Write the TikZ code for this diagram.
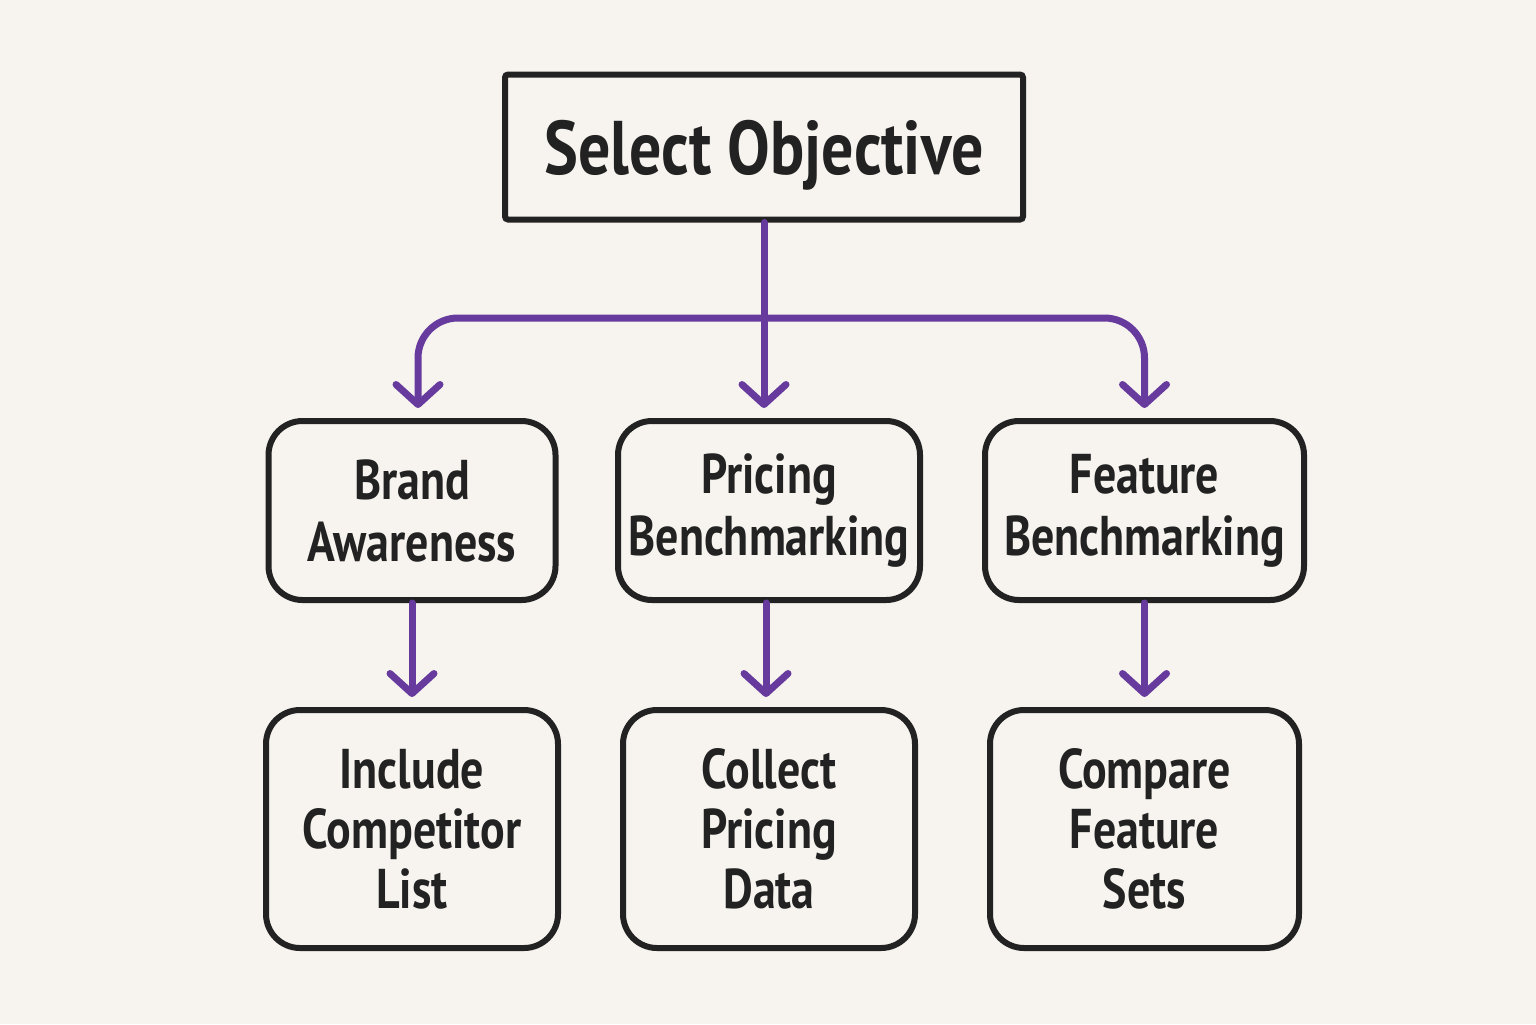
\documentclass[tikz,border=0pt]{standalone}
\usepackage{fontspec}
\newfontfamily\hand[FakeStretch=0.82]{PT Sans Bold}
\newfontfamily\handtop[FakeStretch=0.84]{PT Sans Bold}
\usetikzlibrary{arrows.meta}
\definecolor{bg}{HTML}{F7F4EF}
\definecolor{ink}{HTML}{222222}
\definecolor{vio}{HTML}{673A9E}
\begin{document}
\begin{tikzpicture}[x=0.5pt,y=-0.5pt,
  box/.style={draw=ink, line width=3pt, align=center, text=ink, inner sep=0pt,
    font=\hand\fontsize{28}{31}\selectfont},
  topbox/.style={box, rounded corners=1.5pt, minimum width=259pt, minimum height=72.5pt,
    font=\handtop\fontsize{38}{40}\selectfont},
  midbox/.style={box, rounded corners=17pt, minimum height=89.5pt},
  lowbox/.style={box, rounded corners=17pt, minimum height=119pt,
    font=\hand\fontsize{28}{30}\selectfont},
  arr/.style={draw=vio, line width=3.5pt, line cap=round, line join=round,
    -{Straight Barb[length=10pt,width=22pt,line cap=round,line join=round]}, shorten >=5pt}]
\fill[bg] (0,0) rectangle (1536,1024);
\useasboundingbox (0,0) rectangle (1536,1024);
\node[topbox] (top) at (764,147) {};
\node[font=\handtop\fontsize{38}{40}\selectfont, text=ink] (toptext) at (764,155) {Select Objective};
\node[midbox, minimum width=143.5pt] (brand) at (412,510.5) {Brand\\Awareness};
\node[midbox, minimum width=151pt] (pricing) at (769,510.5) {Pricing\\Benchmarking};
\node[midbox, minimum width=159.5pt] (feature) at (1144.5,510.5) {Feature\\Benchmarking};
\node[lowbox, minimum width=146pt] (include) at (412,829) {Include\\Competitor\\List};
\node[lowbox, minimum width=146pt] (collect) at (769,829) {Collect\\Pricing\\Data};
\node[lowbox, minimum width=154.5pt] (compare) at (1144.5,829) {Compare\\Feature\\Sets};
\coordinate (j) at (764,318);
\draw[arr] (top.south) -- (top.south |- pricing.north);
\draw[arr, rounded corners=20pt] (j) -| ([xshift=3pt]brand.north);
\draw[arr, rounded corners=20pt] (j) -| (feature.north);
\draw[arr] (brand.south -| include.north) -- (include.north);
\draw[arr] ([xshift=-1.5pt]pricing.south) -- ([xshift=-1.5pt]pricing.south |- collect.north);
\draw[arr] (feature.south -| compare.north) -- (compare.north);
\end{tikzpicture}
\end{document}
